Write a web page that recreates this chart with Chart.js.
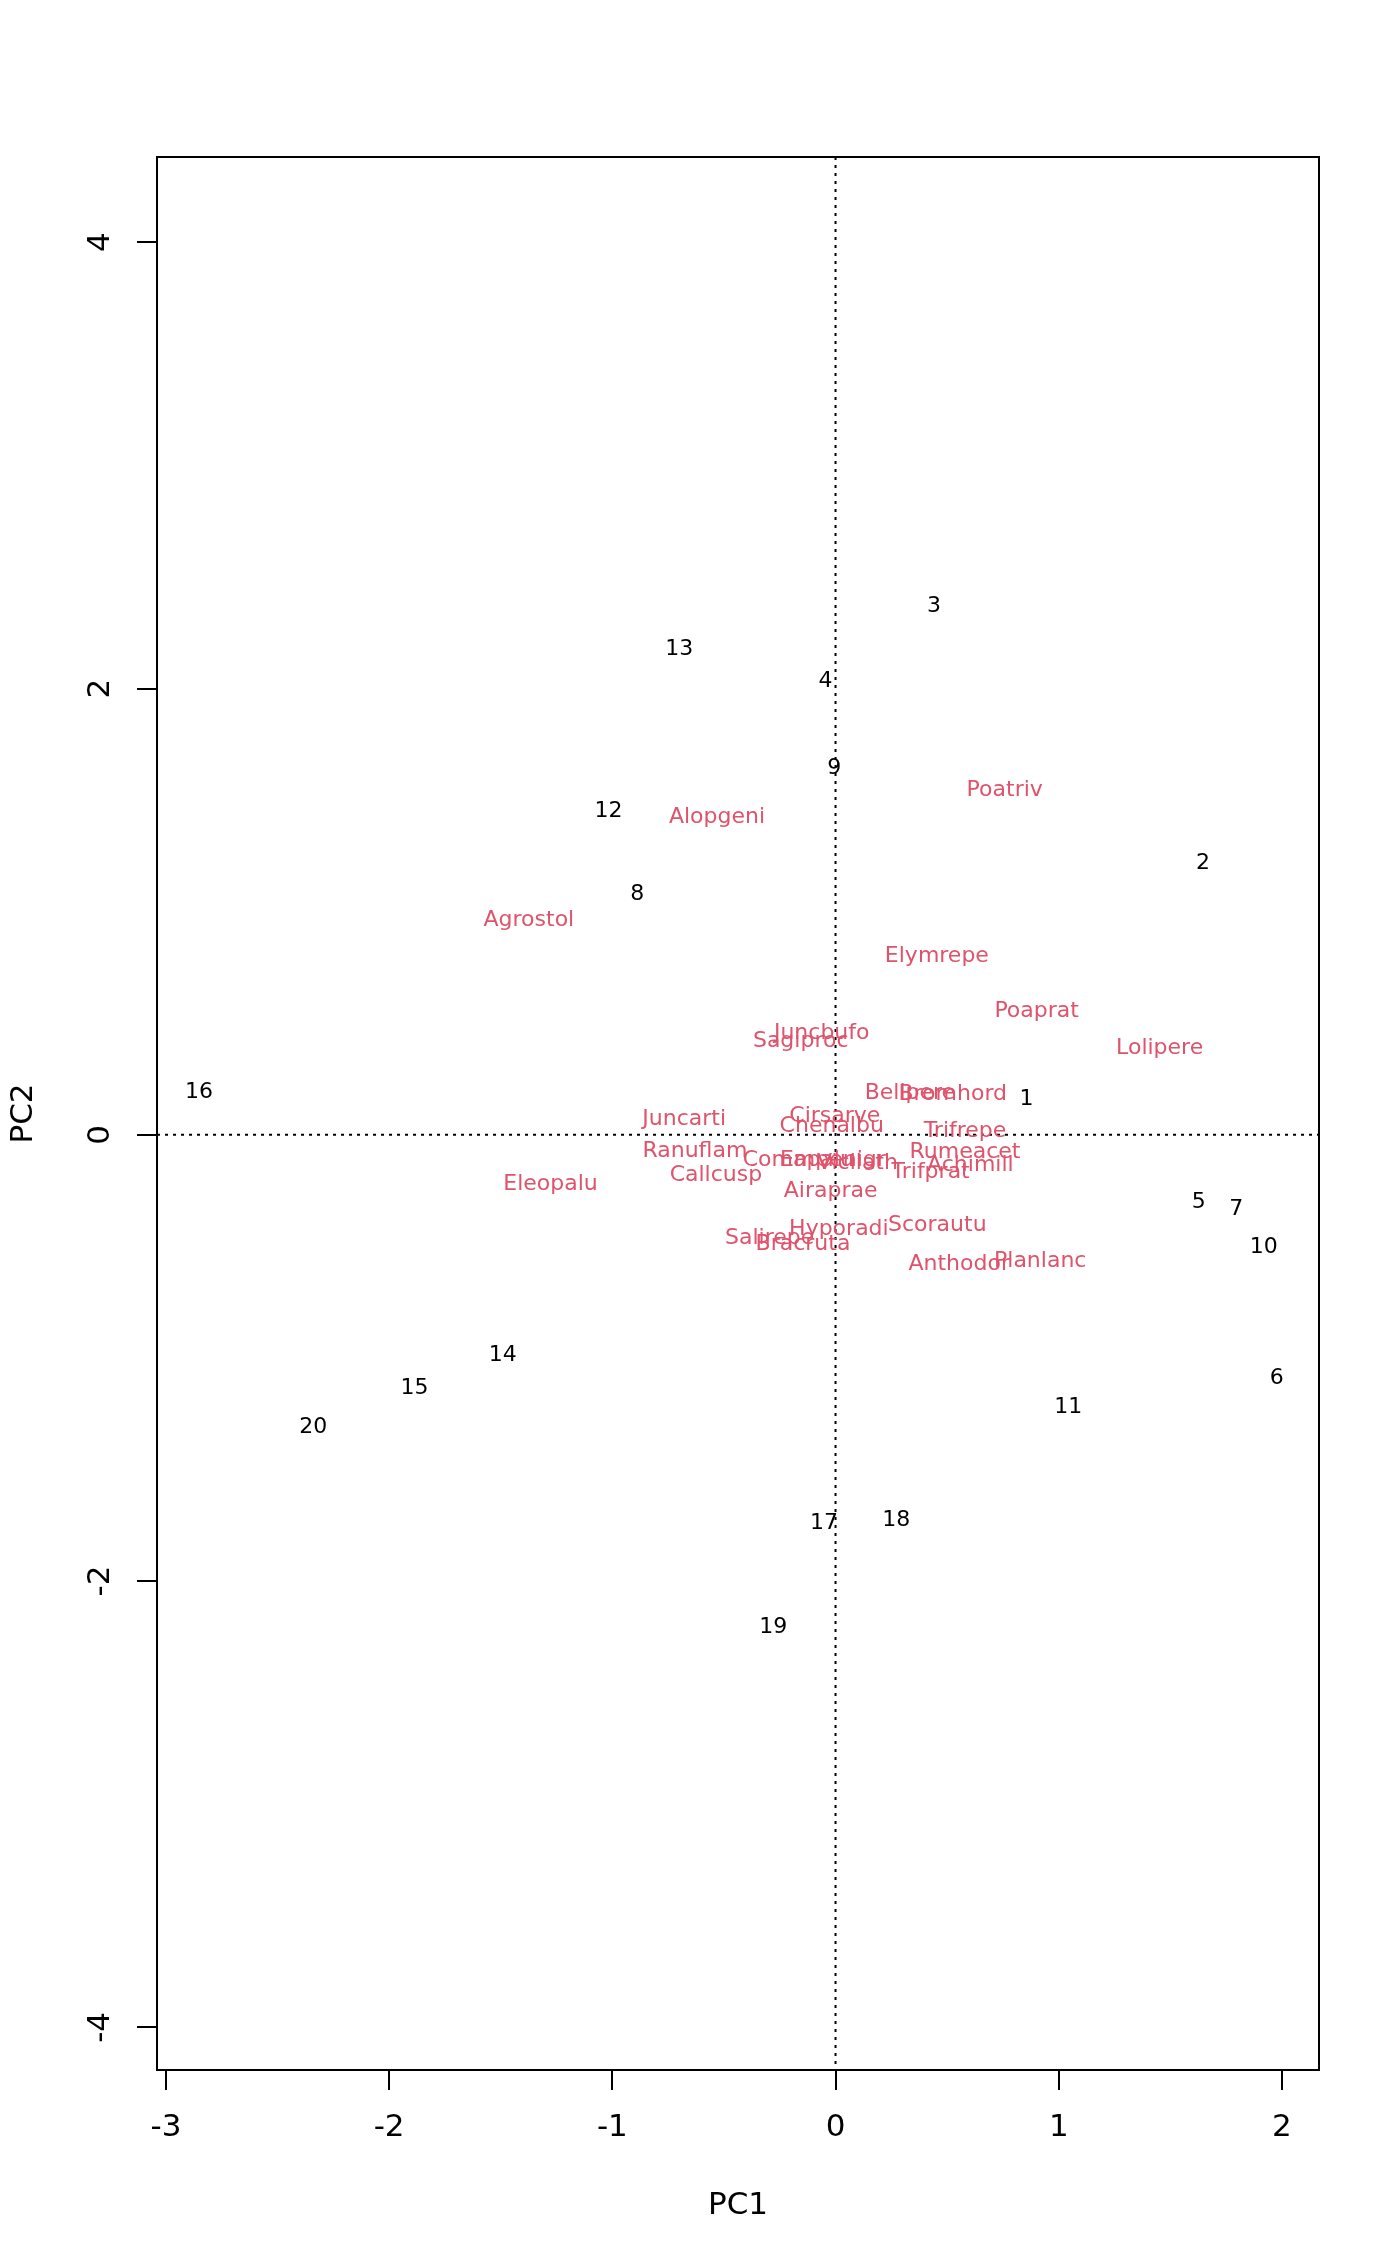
<!DOCTYPE html>
<html>
<head>
<meta charset="utf-8">
<script src="https://cdn.jsdelivr.net/npm/chart.js@4.4.1/dist/chart.umd.min.js"></script>
<style>
    html, body { margin: 0; padding: 0; background: #fff; }
    canvas { display: block; }
</style>
</head>
<body>
<canvas id="biplot" width="1400" height="2266"></canvas>
<script>
// site scores (black numbers)
const siteLabels = ['1', '2', '3', '4', '5', '6', '7', '8', '9', '10',
    '11', '12', '13', '14', '15', '16', '17', '18', '19', '20'];
const siteX = [0.856, 1.646, 0.441, -0.045, 1.627, 1.977, 1.795, -0.888, -0.006, 1.918,
    1.043, -1.017, -0.700, -1.491, -1.886, -2.852, -0.052, 0.272, -0.279, -2.340];
const siteY = [0.169, 1.225, 2.378, 2.041, -0.292, -1.082, -0.324, 1.089, 1.653, -0.493,
    -1.212, 1.458, 2.184, -0.979, -1.128, 0.201, -1.730, -1.717, -2.197, -1.303];

// species scores (red names)
const speciesLabels = ['Poatriv', 'Alopgeni', 'Agrostol', 'Elymrepe', 'Poaprat', 'Lolipere',
    'Juncbufo', 'Sagiproc', 'Bellpere', 'Bromhord', 'Juncarti', 'Cirsarve', 'Chenalbu',
    'Trifrepe', 'Ranuflam', 'Rumeacet', 'Achimill', 'Comapalu', 'Empenigr', 'Vicilath',
    'Trifprat', 'Callcusp', 'Eleopalu', 'Airaprae', 'Hyporadi', 'Scorautu', 'Salirepe',
    'Bracruta', 'Anthodor', 'Planlanc'];
const speciesX = [0.758, -0.531, -1.374, 0.454, 0.901, 1.452,
    -0.062, -0.156, 0.333, 0.525, -0.678, -0.003, -0.017,
    0.580, -0.630, 0.580, 0.604, -0.167, -0.012, 0.098,
    0.426, -0.536, -1.277, -0.022, 0.015, 0.456, -0.295,
    -0.146, 0.554, 0.917];
const speciesY = [1.555, 1.432, 0.972, 0.810, 0.564, 0.395,
    0.463, 0.426, 0.194, 0.191, 0.079, 0.094, 0.045,
    0.025, -0.067, -0.070, -0.127, -0.104, -0.104, -0.120,
    -0.157, -0.172, -0.214, -0.243, -0.414, -0.396, -0.453,
    -0.483, -0.572, -0.557];

const xTicks = [-3, -2, -1, 0, 1, 2];
const yTicks = [-4, -2, 0, 2, 4];

const toPoints = (xs, ys) => xs.map((x, i) => ({x: x, y: ys[i]}));

const FONT = '"DejaVu Sans", "Liberation Sans", sans-serif';

// draws the box and the dotted zero lines
const framePlugin = {
    id: 'frame',
    beforeDatasetsDraw(chart) {
        const {ctx, chartArea, scales} = chart;
        const x0 = scales.x.getPixelForValue(0);
        const y0 = scales.y.getPixelForValue(0);
        ctx.save();
        ctx.strokeStyle = '#000';
        ctx.lineWidth = 2;
        ctx.setLineDash([3, 5]);
        ctx.beginPath();
        ctx.moveTo(chartArea.left, y0);
        ctx.lineTo(chartArea.right, y0);
        ctx.moveTo(x0, chartArea.top);
        ctx.lineTo(x0, chartArea.bottom);
        ctx.stroke();
        ctx.setLineDash([]);
        ctx.strokeRect(chartArea.left, chartArea.top,
            chartArea.right - chartArea.left, chartArea.bottom - chartArea.top);
        ctx.restore();
    }
};

// writes each point's label centred on its position
const textPlugin = {
    id: 'textLabels',
    afterDatasetsDraw(chart) {
        const ctx = chart.ctx;
        ctx.save();
        ctx.font = '22px ' + FONT;
        ctx.textAlign = 'center';
        ctx.textBaseline = 'middle';
        chart.data.datasets.forEach((ds, di) => {
            const meta = chart.getDatasetMeta(di);
            ctx.fillStyle = ds.textColor;
            meta.data.forEach((el, i) => {
                // small nudge so the glyphs sit centred like R's text()
                ctx.fillText(ds.names[i], el.x, el.y + 2);
            });
        });
        ctx.restore();
    }
};

new Chart(document.getElementById('biplot'), {
    type: 'scatter',
    data: {
        datasets: [
            {
                label: 'sites',
                data: toPoints(siteX, siteY),
                names: siteLabels,
                textColor: '#000000',
                pointRadius: 0,
                pointHoverRadius: 0
            },
            {
                label: 'species',
                data: toPoints(speciesX, speciesY),
                names: speciesLabels,
                textColor: '#DF536B',
                pointRadius: 0,
                pointHoverRadius: 0
            }
        ]
    },
    options: {
        responsive: false,
        animation: false,
        devicePixelRatio: 1,
        layout: {padding: {top: 157, right: 81, left: 0, bottom: 0}},
        plugins: {
            legend: {display: false},
            tooltip: {enabled: false}
        },
        scales: {
            x: {
                type: 'linear',
                min: -3.04,
                max: 2.166,
                afterBuildTicks: (scale) => {
                    scale.ticks = xTicks.map(v => ({value: v}));
                },
                afterFit: (scale) => {
                    scale.height = 196;
                },
                border: {display: true, color: '#000', width: 2},
                grid: {
                    display: true,
                    drawOnChartArea: false,
                    drawTicks: true,
                    tickLength: 20,
                    color: '#000',
                    lineWidth: 2
                },
                ticks: {
                    color: '#000',
                    font: {family: FONT, size: 31},
                    padding: 19,
                    maxRotation: 0,
                    autoSkip: false
                },
                title: {
                    display: true,
                    text: 'PC1',
                    color: '#000',
                    font: {family: FONT, size: 31},
                    padding: {top: 0, bottom: 41}
                }
            },
            y: {
                type: 'linear',
                min: -4.191,
                max: 4.382,
                afterBuildTicks: (scale) => {
                    scale.ticks = yTicks.map(v => ({value: v}));
                },
                afterFit: (scale) => {
                    scale.width = 157;
                },
                border: {display: true, color: '#000', width: 2},
                grid: {
                    display: true,
                    drawOnChartArea: false,
                    drawTicks: true,
                    tickLength: 20,
                    color: '#000',
                    lineWidth: 2
                },
                ticks: {
                    color: '#000',
                    font: {family: FONT, size: 31},
                    padding: 21,
                    minRotation: 90,
                    maxRotation: 90,
                    crossAlign: 'center',
                    autoSkip: false
                },
                title: {
                    display: true,
                    text: 'PC2',
                    color: '#000',
                    font: {family: FONT, size: 31},
                    padding: {top: 5, bottom: 0}
                }
            }
        }
    },
    plugins: [framePlugin, textPlugin]
});
</script>
</body>
</html>
